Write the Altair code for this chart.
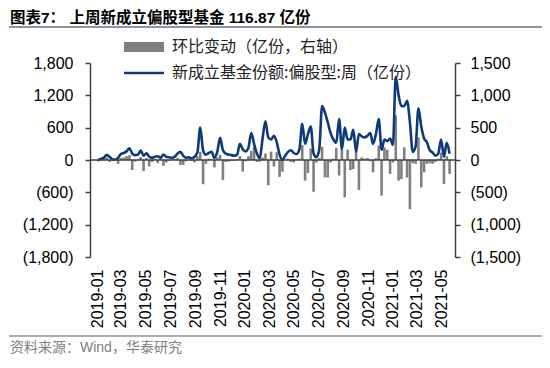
import altair as alt
import pandas as pd

# ---------------- data ----------------
START = "2019-01-04"
N_WEEKS = 125

# 新成立基金份额:偏股型:周 (亿份, left axis)
share = [
    10, 20, 45, 95, 60, 15, 10, 40, 110, 130,
    160, 215, 120, 90, 100, 175, 80, 125, 60, 40,
    60, 70, 40, 100, 60, 50, 40, 60, 120, 150,
    80, 40, 50, 30, 60, 140, 600, 180, 100, 130,
    150, 40, 150, 410, 180, 120, 100, 90, 80, 100,
    300, 200, 160, 230, 500, 300, 120, 30, 400, 720,
    420, 380, 450, 330, 100, 0, 80, 150, 180, 130,
    110, 200, 670, 300, 480, 620, 120, 50, 200, 1000,
    880, 700, 500, 380, 320, 760, 200, 600, 380, 380,
    560, 160, 480, 440, 420, 450, 500, 300, 480, 760,
    190, 380, 350, 400, 280, 1545, 1200, 1000, 1000, 1100,
    700, 150, 250, 960, 620, 400, 330, 180, 140, 80,
    120, 380, 60, 320, 117,
]

# 环比变动 (亿份, right axis)
change = [
    -25, 5, 15, 40, -30, -15, 0, -60, 30, 40,
    60, 75, -155, -25, 10, 45, -170, 30, -100, -30,
    15, -50, 20, -90, -40, -15, 10, 15, 35, -75,
    -75, -20, 10, -15, -35, 60, 130, -375, -60, 20,
    15, -115, 40, 80, -310, -30, -25, -10, -15, 10,
    60, -180, -20, 60, 140, 200, -30, -25, 40, 100,
    -390, 130, -100, 120, -260, -180, 10, 20, -30, -40,
    10, 20, 230, -320, -200, 180, -490, -40, 30, 205,
    -270, -270, -40, 20, 185, -240, 155, -575, 160, -155,
    -140, 170, -465, 40, 20, 30, -20, -190, 30, 220,
    -550, 195, 160, -215, -40, 690, -320, -295, 195, -270,
    -760, -50, -60, 350, -425, -190, -60, -50, -60, -30,
    20, 115, -370, 60, -215,
]

x_tick_labels = ["2019-01", "2019-03", "2019-05", "2019-07", "2019-09", "2019-11",
                 "2020-01", "2020-03", "2020-05", "2020-07", "2020-09", "2020-11",
                 "2021-01", "2021-03", "2021-05"]
left_ticks = [-1800, -1200, -600, 0, 600, 1200, 1800]
right_ticks = [-1500, -1000, -500, 0, 500, 1000, 1500]

TITLE = "图表7：  上周新成立偏股型基金 116.87 亿份"
LEG_BAR = "环比变动（亿份，右轴）"
LEG_LINE = "新成立基金份额:偏股型:周（亿份）"
SOURCE = "资料来源：Wind，华泰研究"

assert len(share) == N_WEEKS and len(change) == N_WEEKS

dates = pd.date_range(START, periods=N_WEEKS, freq="7D").strftime("%Y-%m-%d")
df = pd.DataFrame({"date": dates, "share": share, "change": change})

# ---------------- style ----------------
LINE_COLOR = "#0e3a7a"
BAR_COLOR = "#808080"
AXIS_COLOR = "#404040"
NUM_FONT = "Liberation Sans"
CJK_FONT = "Noto Sans CJK SC"

x_vals = [alt.DateTime(year=int(s[:4]), month=int(s[5:]), date=1, utc=True) for s in x_tick_labels]
x_enc = alt.X(
    "date:T",
    scale=alt.Scale(type="utc",
                    domain=[alt.DateTime(year=2018, month=12, date=27, utc=True),
                            alt.DateTime(year=2021, month=5, date=22, utc=True)]),
    axis=alt.Axis(values=x_vals, labelExpr="utcFormat(datum.value, '%Y-%m')",
                  labelAngle=270, domain=False, ticks=False, grid=False,
                  labelPadding=12, labelFontSize=16, labelFont=NUM_FONT,
                  labelColor="#000000", labelOverlap=False, labelFlush=False, title=None),
)

paren_expr = "datum.value < 0 ? '(' + format(-datum.value, ',') + ')' : format(datum.value, ',')"


def y_axis(orient, values, pad):
    return alt.Axis(orient=orient, values=values, labelExpr=paren_expr, title=None,
                    grid=False, domainColor=AXIS_COLOR, domainWidth=1.5,
                    tickColor=AXIS_COLOR, tickWidth=1.5, tickSize=5,
                    labelFontSize=16, labelFont=NUM_FONT, labelColor="#000000",
                    labelPadding=pad)


bars = alt.Chart(df).mark_bar(size=2.6, color=BAR_COLOR).encode(
    x=x_enc,
    y=alt.Y("change:Q", scale=alt.Scale(domain=[-1500, 1500], nice=False),
            axis=y_axis("right", right_ticks, 10)),
)

line = alt.Chart(df).mark_line(color=LINE_COLOR, strokeWidth=2.6, interpolate="monotone").encode(
    x=x_enc,
    y=alt.Y("share:Q", scale=alt.Scale(domain=[-1800, 1800], nice=False),
            axis=y_axis("left", left_ticks, 12)),
)

zero = alt.Chart(pd.DataFrame({"z": [0]})).mark_rule(color=AXIS_COLOR, strokeWidth=1.5).encode(
    y=alt.Y("z:Q", scale=alt.Scale(domain=[-1800, 1800], nice=False), axis=None),
    x=alt.value(0), x2=alt.value(365),
)

one = pd.DataFrame({"k": [1]})

title_txt = alt.Chart(pd.DataFrame({"t": [TITLE]})).mark_text(
    align="left", baseline="middle", fontSize=15.5, fontWeight="bold",
    font=f"{NUM_FONT}, {CJK_FONT}", color="#000000",
).encode(text="t:N", x=alt.value(-80), y=alt.value(-45))

title_rule = alt.Chart(one).mark_rule(color="#8c96a0", strokeWidth=2).encode(
    x=alt.value(-81), x2=alt.value(456), y=alt.value(-36))

leg_rect = alt.Chart(one).mark_rect(color=BAR_COLOR).encode(
    x=alt.value(34), x2=alt.value(74), y=alt.value(-21), y2=alt.value(-11))
leg_bar_txt = alt.Chart(pd.DataFrame({"t": [LEG_BAR]})).mark_text(
    align="left", baseline="middle", fontSize=16, font=CJK_FONT, color="#222222",
).encode(text="t:N", x=alt.value(82), y=alt.value(-16))

leg_line = alt.Chart(one).mark_rule(color=LINE_COLOR, strokeWidth=2.6).encode(
    x=alt.value(34), x2=alt.value(74), y=alt.value(10))
leg_line_txt = alt.Chart(pd.DataFrame({"t": [LEG_LINE]})).mark_text(
    align="left", baseline="middle", fontSize=16, font=CJK_FONT, color="#222222",
).encode(text="t:N", x=alt.value(82), y=alt.value(10))

src_rule = alt.Chart(one).mark_rule(color="#8c96a0", strokeWidth=1.5).encode(
    x=alt.value(-81), x2=alt.value(456), y=alt.value(273))
src_txt = alt.Chart(pd.DataFrame({"t": [SOURCE]})).mark_text(
    align="left", baseline="middle", fontSize=14, font=f"{NUM_FONT}, {CJK_FONT}", color="#808080",
).encode(text="t:N", x=alt.value(-80), y=alt.value(285))

chart = alt.layer(
    bars, line, zero,
    title_txt, title_rule, leg_rect, leg_bar_txt, leg_line, leg_line_txt, src_rule, src_txt,
).resolve_scale(y="independent").properties(
    width=365, height=194,
    autosize=alt.AutoSizeParams(type="none"),
    padding={"left": 82, "top": 55, "right": 87, "bottom": 104},
    background="#ffffff",
).configure_view(stroke=None)

chart.save("out.html", embed_options={"renderer": "svg", "actions": False})
